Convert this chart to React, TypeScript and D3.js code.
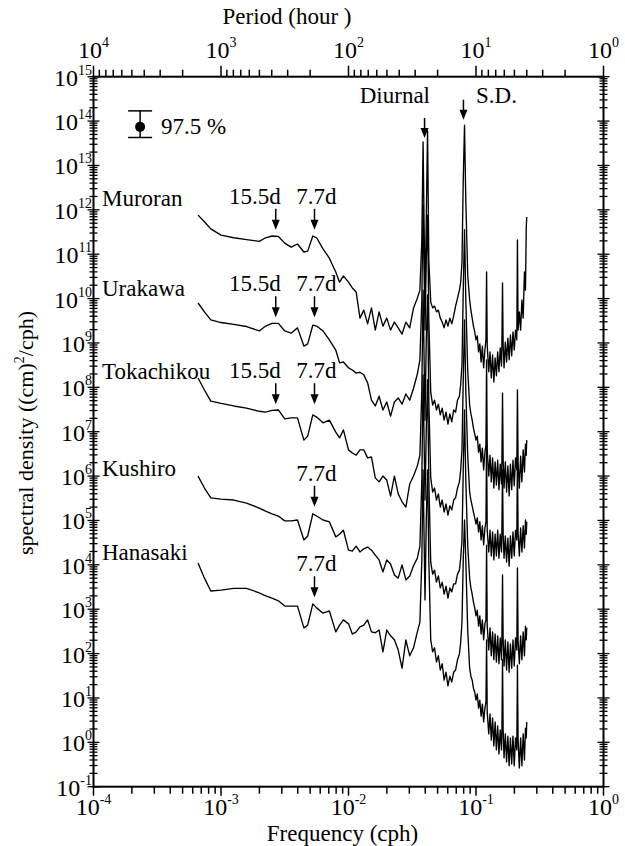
import React, { useEffect, useRef } from 'react'
import * as d3 from 'd3'

// log10 of frequency (cph), common sampling for every station
const logFreq = [
  // long periods up to the diurnal band
  -3.18, -3.13, -3.08, -3.0, -2.9, -2.8, -2.7, -2.65, -2.6, -2.55,
  -2.5, -2.45, -2.4, -2.35, -2.32, -2.28, -2.25, -2.2, -2.15, -2.1,
  -2.07, -2.04, -2.0, -1.97, -1.94, -1.91, -1.88, -1.85, -1.82, -1.79,
  -1.76, -1.73, -1.7, -1.67, -1.64, -1.61, -1.58, -1.55, -1.52, -1.49,
  -1.46, -1.44, -1.425, -1.415, -1.4, -1.39, -1.38, -1.37,
  // between diurnal and semidiurnal
  -1.355, -1.34, -1.325, -1.31, -1.295, -1.28, -1.265, -1.25, -1.235, -1.22,
  -1.205, -1.19, -1.175, -1.16, -1.145, -1.13, -1.12, -1.11,
  // semidiurnal
  -1.1, -1.09, -1.08, -1.065,
  // high frequency tail
  -1.05, -1.04, -1.03, -1.02, -1.01, -1.0, -0.99, -0.98, -0.97, -0.96,
  -0.95, -0.94, -0.93, -0.922, -0.917, -0.912, -0.9, -0.89, -0.88, -0.87,
  -0.86, -0.85, -0.84, -0.83, -0.82, -0.81, -0.8, -0.797, -0.792, -0.787,
  -0.78, -0.77, -0.76, -0.75, -0.74, -0.73, -0.72, -0.71, -0.7, -0.69,
  -0.68, -0.675, -0.67, -0.66, -0.65, -0.64, -0.63, -0.62, -0.612, -0.606,
  -0.602,
]

// log10 of spectral density ((cm)^2/cph), offset per station as in the figure
const muroran = [
  11.88, 11.73, 11.57, 11.43, 11.37, 11.33, 11.29, 11.37, 11.41, 11.40,
  11.25, 11.16, 11.23, 11.05, 11.07, 11.41, 11.37, 11.12, 10.91, 10.60,
  10.37, 10.51, 10.37, 10.24, 10.15, 9.56, 9.74, 9.43, 9.79, 9.29,
  9.70, 9.38, 9.56, 9.29, 9.47, 9.34, 9.20, 9.47, 9.34, 9.79,
  10.01, 10.19, 11.32, 13.53, 9.97, 11.77, 13.78, 10.87,
  9.92, 9.79, 9.83, 9.70, 9.74, 9.56, 9.47, 9.34, 9.52, 9.38,
  9.56, 9.43, 9.61, 9.83, 10.01, 10.19, 10.37, 10.82,
  12.67, 13.91, 12.22, 10.53,
  9.97, 9.74, 9.56, 9.38, 9.25, 9.07, 9.16, 8.80, 8.98, 8.57,
  8.93, 8.44, 8.84, 9.07, 10.60, 8.95, 8.35, 8.80, 8.21, 8.73,
  8.12, 8.66, 8.26, 8.80, 8.35, 8.89, 8.48, 8.95, 10.35, 8.95,
  8.44, 9.02, 8.57, 9.11, 8.62, 9.18, 8.71, 9.25, 8.84, 9.29,
  9.07, 11.32, 9.29, 9.70, 9.29, 9.97, 9.56, 10.60, 10.19, 11.59,
  11.84,
]
const urakawa = [
  9.90, 9.70, 9.52, 9.46, 9.42, 9.37, 9.27, 9.38, 9.44, 9.44,
  9.27, 9.22, 9.34, 8.93, 8.98, 9.40, 9.38, 9.27, 9.07, 8.84,
  8.55, 8.57, 8.44, 8.39, 8.32, 8.34, 8.28, 8.10, 7.71, 7.58,
  7.80, 7.49, 7.67, 7.35, 7.67, 7.76, 7.62, 7.85, 7.71, 7.98,
  8.30, 8.62, 9.97, 12.11, 9.29, 10.87, 11.88, 9.52,
  7.89, 7.60, 7.71, 7.49, 7.62, 7.38, 7.53, 7.26, 7.44, 7.17,
  7.40, 7.22, 7.49, 7.44, 7.71, 7.80, 8.07, 8.50,
  10.19, 11.55, 9.97, 8.39,
  7.60, 7.40, 7.26, 7.08, 6.95, 6.81, 6.90, 6.54, 6.72, 6.32,
  6.63, 6.14, 6.54, 6.70, 8.62, 6.59, 6.00, 6.47, 5.87, 6.41,
  5.73, 6.32, 5.80, 6.36, 5.69, 6.27, 5.82, 6.32, 7.87, 6.36,
  5.73, 6.32, 5.64, 6.23, 5.55, 6.27, 5.69, 6.36, 5.78, 6.41,
  6.14, 7.94, 6.32, 5.73, 6.45, 5.87, 6.59, 6.09, 6.72, 6.47,
  6.81,
]
const tokachikou = [
  8.21, 7.94, 7.69, 7.64, 7.58, 7.53, 7.46, 7.44, 7.48, 7.49,
  7.29, 7.31, 7.31, 6.81, 6.90, 7.38, 7.33, 7.20, 7.26, 6.99,
  6.86, 7.04, 6.59, 6.52, 6.47, 6.59, 6.59, 6.41, 6.43, 5.96,
  5.87, 6.00, 5.91, 5.55, 6.00, 5.60, 5.42, 5.30, 5.82, 6.00,
  6.23, 6.47, 7.94, 10.19, 7.26, 9.07, 10.08, 7.71,
  5.96, 5.64, 5.73, 5.46, 5.60, 5.30, 5.46, 5.19, 5.37, 5.12,
  5.33, 5.24, 5.46, 5.51, 5.73, 5.87, 6.14, 6.59,
  8.17, 9.52, 7.94, 6.47,
  5.64, 5.46, 5.33, 5.19, 5.06, 4.92, 5.06, 4.74, 4.97, 4.56,
  4.88, 4.45, 4.83, 4.97, 6.81, 4.78, 4.29, 4.78, 4.20, 4.74,
  4.11, 4.69, 4.20, 4.78, 4.15, 4.69, 4.29, 4.74, 6.14, 4.69,
  4.15, 4.65, 4.06, 4.60, 3.97, 4.65, 4.15, 4.74, 4.20, 4.78,
  4.56, 6.47, 4.74, 4.20, 4.83, 4.29, 4.88, 4.38, 5.01, 4.69,
  4.97,
]
const kushiro = [
  6.00, 5.73, 5.51, 5.48, 5.46, 5.39, 5.28, 5.21, 5.15, 5.10,
  4.99, 4.99, 5.01, 4.56, 4.65, 5.15, 5.10, 5.01, 4.97, 4.63,
  4.69, 4.78, 4.33, 4.31, 4.42, 4.29, 4.36, 4.40, 4.33, 4.22,
  4.11, 3.84, 4.11, 4.02, 3.77, 3.70, 4.00, 3.66, 3.75, 3.98,
  4.15, 4.42, 5.91, 8.28, 5.46, 7.04, 8.17, 5.91,
  4.06, 3.79, 3.88, 3.61, 3.75, 3.48, 3.61, 3.34, 3.52, 3.25,
  3.48, 3.39, 3.57, 3.57, 3.79, 3.88, 4.15, 4.56,
  6.14, 7.49, 5.91, 4.44,
  3.70, 3.48, 3.34, 3.16, 3.03, 2.85, 2.98, 2.62, 2.85, 2.44,
  2.76, 2.31, 2.67, 2.76, 4.44, 2.62, 2.08, 2.58, 1.95, 2.49,
  1.86, 2.44, 1.81, 2.40, 1.77, 2.35, 1.86, 2.31, 3.77, 2.31,
  1.72, 2.31, 1.63, 2.26, 1.58, 2.22, 1.67, 2.31, 1.72, 2.35,
  2.08, 3.93, 2.31, 1.77, 2.40, 1.86, 2.49, 1.95, 2.62, 2.31,
  2.58,
]
const hanasaki = [
  4.04, 3.70, 3.41, 3.43, 3.47, 3.47, 3.37, 3.30, 3.25, 3.19,
  3.07, 3.07, 3.07, 2.58, 2.64, 3.12, 3.03, 2.91, 2.96, 2.49,
  2.64, 2.76, 2.67, 2.44, 2.49, 2.60, 2.64, 2.76, 2.49, 2.47,
  2.53, 2.04, 2.53, 2.40, 2.31, 2.08, 1.67, 2.31, 1.95, 2.13,
  2.49, 2.71, 4.11, 6.14, 3.21, 5.01, 6.14, 4.11,
  2.31, 2.04, 2.13, 1.81, 1.95, 1.63, 1.77, 1.40, 1.58, 1.27,
  1.49, 1.36, 1.58, 1.63, 1.86, 1.99, 2.26, 2.71,
  4.11, 5.01, 4.11, 2.53,
  1.67, 1.49, 1.40, 1.22, 1.13, 0.95, 1.09, 0.77, 0.95, 0.59,
  0.86, 0.46, 0.77, 0.91, 2.31, 0.68, 0.19, 0.64, 0.05, 0.55,
  -0.08, 0.46, -0.17, 0.37, -0.26, 0.28, -0.17, 0.23, 1.86, 0.28,
  -0.35, 0.19, -0.44, 0.14, -0.53, 0.10, -0.49, 0.14, -0.53, 0.10,
  -0.17, 1.74, 0.05, -0.58, 0.10, -0.53, 0.19, -0.40, 0.32, 0.10,
  0.46,
]

const stationNames = ['Muroran', 'Urakawa', 'Tokachikou', 'Kushiro', 'Hanasaki']
const stationSeries = [muroran, urakawa, tokachikou, kushiro, hanasaki]
// log10 density where each station name sits (baseline)
const stationLabelLevel = [12.08, 10.06, 8.19, 6.0, 4.11]
// log10 density of the tip of the 15.5d / 7.7d arrows
const arrowTipLevel = [11.55, 9.58, 7.62, 5.31, 3.27]
const has15d = [true, true, true, false, false]

const periodDays = [15.5, 7.7]
const tidalArrows = [
  { label: 'Diurnal', freq: 0.0395, tip: 13.62 },
  { label: 'S.D.', freq: 0.0797, tip: 14.03 },
]
// 97.5% confidence bar (log10 density of lower cap, dot, upper cap)
const confFreq = 2.32e-4
const confLevels = [13.63, 13.87, 14.23]

const freqExps = [-4, -3, -2, -1, 0]
const periodExps = [4, 3, 2, 1, 0]
const densityExps = d3.range(-1, 16)

const FONT = "'Liberation Serif','Times New Roman',serif"

export default function App() {
  const svgRef = useRef<SVGSVGElement>(null)

  useEffect(() => {
    if (!svgRef.current) return
    const svg = d3.select(svgRef.current)
    svg.selectAll('*').remove()

    const left = 93.5, right = 603.5, top = 76.7, bottom = 786.7
    const x = d3.scaleLog().domain([1e-4, 1]).range([left, right])
    const y = d3.scaleLog().domain([1e-1, 1e15]).range([bottom, top])

    const g = svg.append('g').style('font-family', FONT).attr('fill', '#000')

    // power-of-ten label
    const pow10 = (px: number, py: number, exp: number, anchor: string) => {
      const t = g.append('text')
        .attr('x', px).attr('y', py)
        .attr('text-anchor', anchor)
        .style('font-size', '24px')
      t.append('tspan').text('10')
      t.append('tspan').attr('dy', -11).style('font-size', '14px').text(String(exp))
    }

    // spectra
    const line = d3.line<number>()
      .x((_, i) => x(Math.pow(10, logFreq[i])))
      .y(d => y(Math.pow(10, d)))

    stationSeries.forEach(series => {
      g.append('path')
        .attr('d', line(series))
        .attr('fill', 'none')
        .attr('stroke', '#000')
        .attr('stroke-width', 1.35)
        .attr('stroke-linejoin', 'round')
    })

    // frame
    g.append('rect')
      .attr('x', left).attr('y', top)
      .attr('width', right - left).attr('height', bottom - top)
      .attr('fill', 'none').attr('stroke', '#000').attr('stroke-width', 2)

    const isMajor = (v: number) => Math.abs(Math.log10(v) - Math.round(Math.log10(v))) < 1e-6

    // bottom ticks (outward)
    x.ticks(40).forEach(v => {
      const len = isMajor(v) ? 9 : 7
      g.append('line')
        .attr('x1', x(v)).attr('x2', x(v))
        .attr('y1', bottom).attr('y2', bottom + len)
        .attr('stroke', '#000').attr('stroke-width', 1.5)
    })

    // top ticks from period (hour)
    const periods: number[] = []
    for (let k = 0; k < 4; k++) for (let m = 1; m < 10; m++) periods.push(m * Math.pow(10, k))
    periods.push(1e4)
    periods.forEach(p => {
      const len = isMajor(p) ? 11 : 7
      g.append('line')
        .attr('x1', x(1 / p)).attr('x2', x(1 / p))
        .attr('y1', top).attr('y2', top - len)
        .attr('stroke', '#000').attr('stroke-width', 1.5)
    })

    // left / right ticks, crossing the axis
    y.ticks(200).forEach(v => {
      const half = isMajor(v) ? 6 : 4
      ;[left, right].forEach(ax => {
        g.append('line')
          .attr('x1', ax - half).attr('x2', ax + half)
          .attr('y1', y(v)).attr('y2', y(v))
          .attr('stroke', '#000').attr('stroke-width', 1.3)
      })
    })

    // tick labels
    freqExps.forEach(e => pow10(x(Math.pow(10, e)), 815, e, 'middle'))
    periodExps.forEach(e => pow10(x(1 / Math.pow(10, e)), 58, e, 'middle'))
    densityExps.forEach(e => pow10(92, y(Math.pow(10, e)) + 9, e, 'end'))

    // axis titles
    g.append('text')
      .attr('x', (left + right) / 2 - 6).attr('y', 841)
      .attr('text-anchor', 'middle').style('font-size', '23px')
      .text('Frequency (cph)')
    g.append('text')
      .attr('x', 287).attr('y', 24)
      .attr('text-anchor', 'middle').style('font-size', '23px')
      .text('Period (hour )')
    const yt = g.append('text')
      .attr('transform', 'translate(33,433) rotate(-90)')
      .attr('text-anchor', 'middle').style('font-size', '22px')
    yt.append('tspan').text('spectral density ((cm)')
    yt.append('tspan').attr('dy', -9).style('font-size', '14px').text('2')
    yt.append('tspan').attr('dy', 9).text('/cph)')

    // arrow helper
    const arrow = (ax: number, tipY: number, length: number) => {
      g.append('line')
        .attr('x1', ax).attr('x2', ax)
        .attr('y1', tipY - length).attr('y2', tipY - 6)
        .attr('stroke', '#000').attr('stroke-width', 1.5)
      g.append('path')
        .attr('d', `M${ax - 4},${tipY - 10} L${ax + 4},${tipY - 10} L${ax},${tipY} Z`)
        .attr('fill', '#000')
    }

    // station labels and long-period arrows
    stationNames.forEach((name, i) => {
      g.append('text')
        .attr('x', 102).attr('y', y(Math.pow(10, stationLabelLevel[i])))
        .style('font-size', '23px')
        .text(name)
      const tip = y(Math.pow(10, arrowTipLevel[i]))
      periodDays.forEach(d => {
        if (d === 15.5 && !has15d[i]) return
        const ax = x(1 / (d * 24))
        arrow(ax, tip, 21)
        g.append('text')
          .attr('x', d === 15.5 ? ax + 5 : ax + 2)
          .attr('y', tip - 26)
          .attr('text-anchor', d === 15.5 ? 'end' : 'middle')
          .style('font-size', '23px')
          .text(`${d}d`)
      })
    })

    // tidal arrows
    tidalArrows.forEach(t => {
      const ax = x(t.freq)
      const tip = y(Math.pow(10, t.tip))
      arrow(ax, tip, 20)
    })
    g.append('text').attr('x', 430).attr('y', 103)
      .attr('text-anchor', 'end').style('font-size', '23px').text('Diurnal')
    g.append('text').attr('x', 476).attr('y', 103)
      .style('font-size', '23px').text('S.D.')

    // confidence bar
    const cx = x(confFreq)
    const [lo, mid, hi] = confLevels.map(v => y(Math.pow(10, v)))
    g.append('line').attr('x1', cx).attr('x2', cx).attr('y1', hi).attr('y2', lo)
      .attr('stroke', '#000').attr('stroke-width', 1.5)
    ;[hi, lo].forEach(cy => {
      g.append('line').attr('x1', cx - 12).attr('x2', cx + 12).attr('y1', cy).attr('y2', cy)
        .attr('stroke', '#000').attr('stroke-width', 1.5)
    })
    g.append('circle').attr('cx', cx).attr('cy', mid).attr('r', 5).attr('fill', '#000')
    g.append('text').attr('x', 161).attr('y', 134)
      .style('font-size', '23px').text('97.5 %')
  }, [])

  return (
    <svg
      ref={svgRef}
      width={625}
      height={846}
      style={{ position: 'absolute', left: 0, top: 0, background: '#fff' }}
    />
  )
}
